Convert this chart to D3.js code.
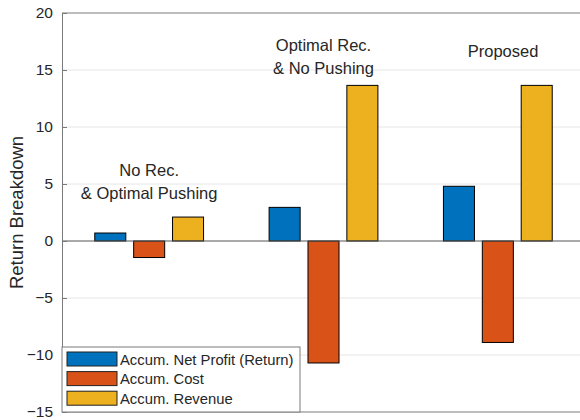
<!DOCTYPE html>
<html>
<head>
<meta charset="utf-8">
<script src="https://cdn.jsdelivr.net/npm/d3@7"></script>
<style>
body { margin: 0; background: #fff; }
svg text { font-family: "Liberation Sans", Arial, sans-serif; fill: #262626; }
</style>
</head>
<body>
<div id="chart"></div>
<script>
// data
var groups = [1, 2, 3];
var seriesNames = ["Accum. Net Profit (Return)", "Accum. Cost", "Accum. Revenue"];
var netProfit = [0.7, 2.95, 4.8];
var cost = [-1.45, -10.7, -8.9];
var revenue = [2.1, 13.65, 13.65];
var groupLabels = [["No Rec.", "& Optimal Pushing"], ["Optimal Rec.", "& No Pushing"], ["Proposed"]];
var labelX = [1, 2, 3.03];
var labelValues = [5.7, 16.65, 16.1];
var yTicks = [-15, -10, -5, 0, 5, 10, 15, 20];
var colors = ["#0072BD", "#D95319", "#EDB120"];

var series = [netProfit, cost, revenue];

var margin = {top: 13, right: -5, bottom: 8, left: 62},
	width = 580 - margin.left - margin.right,
	height = 420 - margin.top - margin.bottom;

var svg = d3.select("#chart").append("svg")
	.attr("width", 580)
	.attr("height", 420);

var g = svg.append("g")
	.attr("transform", "translate(" + margin.left + "," + margin.top + ")");

var x = d3.scaleLinear().domain([0.5, 3.5]).range([0, width]);
var y = d3.scaleLinear().domain([-15, 20]).range([height, 0]);

var bandW = x(2) - x(1);
var barW = bandW * 0.178;
var barStep = bandW * 0.223;

// grid
g.selectAll(".grid")
	.data(yTicks.filter(function(d) { return d > -15 && d < 20 && d !== 0; }))
	.enter().append("line")
	.attr("x1", 0).attr("x2", width)
	.attr("y1", d => y(d)).attr("y2", d => y(d))
	.attr("stroke", "#e6e6e6").attr("stroke-width", 1);

// bars
var barData = [];
for (var s = 0; s < series.length; s++) {
	for (var i = 0; i < groups.length; i++) {
		barData.push({s: s, g: groups[i], v: series[s][i]});
	}
}
g.selectAll(".bar")
	.data(barData)
	.enter().append("rect")
	.attr("class", "bar")
	.attr("x", d => x(d.g) + (d.s - 1) * barStep - barW / 2)
	.attr("y", d => y(Math.max(0, d.v)))
	.attr("width", barW)
	.attr("height", d => Math.abs(y(d.v) - y(0)))
	.attr("fill", d => colors[d.s])
	.attr("stroke", "#000")
	.attr("stroke-width", 1);

// baseline
g.append("line")
	.attr("x1", 0).attr("x2", width)
	.attr("y1", y(0)).attr("y2", y(0))
	.attr("stroke", "#555").attr("stroke-width", 1);

// axes box
var yAxisL = d3.axisLeft(y).tickValues(yTicks).tickSizeInner(-5).tickSizeOuter(0).tickPadding(9);
var yAxisR = d3.axisRight(y).tickValues(yTicks).tickSizeInner(-5).tickSizeOuter(0).tickFormat("");
var gl = g.append("g").call(yAxisL);
var gr = g.append("g").attr("transform", "translate(" + width + ",0)").call(yAxisR);
[gl, gr].forEach(function(a) {
	a.select(".domain").attr("stroke", "#7a7a7a");
	a.selectAll(".tick line").attr("stroke", "#7a7a7a");
});
gl.selectAll(".tick text")
	.attr("font-size", "15.5px")
	.attr("font-family", "Liberation Sans, Arial, sans-serif")
	.attr("fill", "#262626");

g.append("line")
	.attr("x1", 0).attr("x2", width).attr("y1", 0).attr("y2", 0)
	.attr("stroke", "#7a7a7a");
g.append("line")
	.attr("x1", 0).attr("x2", width).attr("y1", height).attr("y2", height)
	.attr("stroke", "#7a7a7a");

// group annotations
groupLabels.forEach(function(lines, i) {
	var t = g.append("text")
		.attr("text-anchor", "middle")
		.attr("x", x(labelX[i]))
		.attr("y", y(labelValues[i]))
		.attr("font-size", "16.5px");
	lines.forEach(function(l, k) {
		t.append("tspan")
			.attr("x", x(labelX[i]))
			.attr("dy", k === 0 ? 0 : 23)
			.text(l);
	});
});

// y label
svg.append("text")
	.attr("transform", "translate(23," + (margin.top + y(2.5)) + ") rotate(-90)")
	.attr("text-anchor", "middle")
	.attr("font-size", "18.5px")
	.text("Return Breakdown");

// legend
var lg = g.append("g").attr("transform", "translate(0," + (height - 65) + ")");
lg.append("rect")
	.attr("x", 0).attr("y", 0)
	.attr("width", 238).attr("height", 65)
	.attr("fill", "#fff")
	.attr("stroke", "#7a7a7a");
seriesNames.forEach(function(name, i) {
	lg.append("rect")
		.attr("x", 5).attr("y", 5 + i * 19.6)
		.attr("width", 50).attr("height", 14)
		.attr("fill", colors[i])
		.attr("stroke", "#222");
	lg.append("text")
		.attr("x", 58).attr("y", 17.5 + i * 19.6)
		.attr("font-size", "14.8px")
		.text(name);
});
</script>
</body>
</html>
